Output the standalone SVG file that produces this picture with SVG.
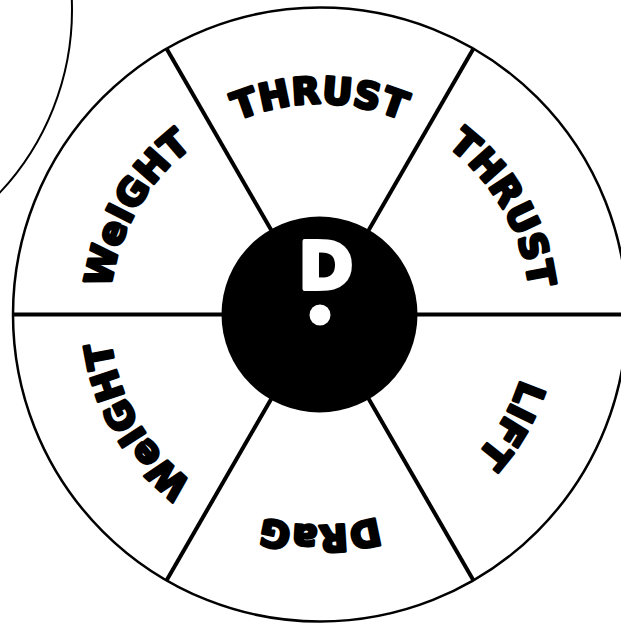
<svg xmlns="http://www.w3.org/2000/svg" width="621" height="623" viewBox="0 0 621 623">
<style>
.lbl{font-family:"DejaVu Sans","Liberation Sans",sans-serif;font-weight:bold;font-size:37px;letter-spacing:0.5px;fill:#000;stroke:#000;stroke-width:3;stroke-linejoin:round}
.spoke{stroke:#000;stroke-width:4;fill:none}
</style>
<defs>
<path id="arc" d="M 109,314.5 A 211 211 0 0 1 531,314.5"/>
</defs>
<rect width="621" height="623" fill="#fff"/>
<circle id="neighbour" cx="-195" cy="10" r="267" fill="none" stroke="#000" stroke-width="2"/>
<g id="wheel">
<circle cx="320" cy="314.5" r="307" fill="#fff" stroke="#000" stroke-width="2.5"/>
</g>
<g id="connectors">
<line class="spoke" x1="13" y1="314.5" x2="627" y2="314.5" stroke-width="4.5"/>
<line class="spoke" x1="166.5" y1="48.6" x2="473.5" y2="580.4"/>
<line class="spoke" x1="473.5" y1="48.6" x2="166.5" y2="580.4"/>
</g>
<g id="sector-top"><text class="lbl"><textPath href="#arc" startOffset="50%" text-anchor="middle">THRUST</textPath></text></g>
<g id="sector-upper-right"><text class="lbl" transform="rotate(60 320 314.5)"><textPath href="#arc" startOffset="50%" text-anchor="middle">THRUST</textPath></text></g>
<g id="sector-lower-right"><text class="lbl" transform="rotate(120 320 314.5)"><textPath href="#arc" startOffset="50%" text-anchor="middle">LIFT</textPath></text></g>
<g id="sector-bottom"><text class="lbl" transform="rotate(180 320 314.5)"><textPath href="#arc" startOffset="50%" text-anchor="middle">DRaG</textPath></text></g>
<g id="sector-lower-left"><text class="lbl" transform="rotate(240 320 314.5)"><textPath href="#arc" startOffset="50%" text-anchor="middle">WeIGHT</textPath></text></g>
<g id="sector-upper-left"><text class="lbl" transform="rotate(300 320 314.5)"><textPath href="#arc" startOffset="50%" text-anchor="middle">WeIGHT</textPath></text></g>
<g id="hub">
<circle cx="319.5" cy="314.5" r="98" fill="#000"/>
<text x="326" y="289" text-anchor="middle" font-family="DejaVu Sans, sans-serif" font-weight="bold" font-size="66" fill="#fff" stroke="#fff" stroke-width="4" stroke-linejoin="round">D</text>
<circle cx="320" cy="315" r="10.5" fill="#fff"/>
</g>
</svg>
